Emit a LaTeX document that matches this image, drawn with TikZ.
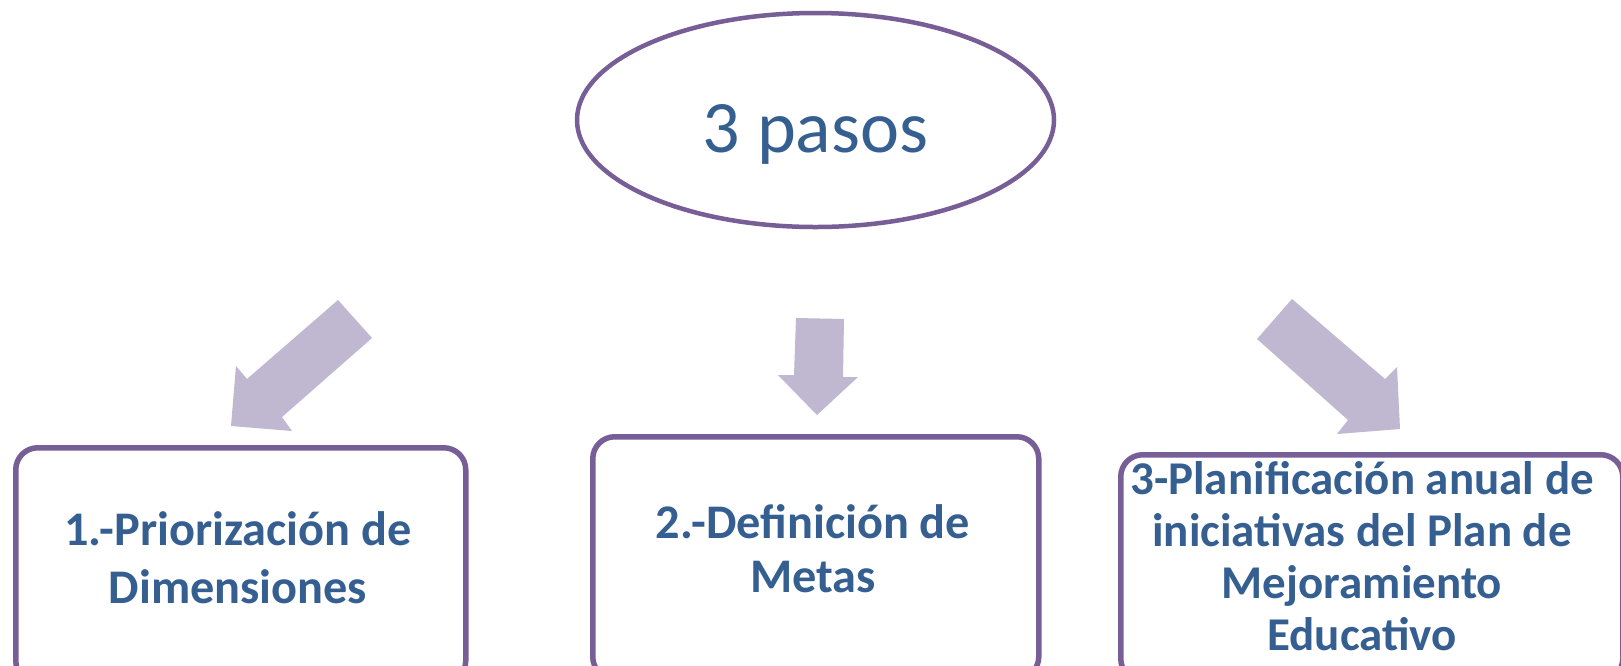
\documentclass[tikz,border=0pt]{standalone}
\usepackage{fontspec}
\setmainfont{Carlito}
\usetikzlibrary{shapes.geometric}
\definecolor{txtblue}{RGB}{54,95,145}
\definecolor{edgepurple}{RGB}{120,94,150}
\definecolor{arrowfill}{RGB}{191,184,208}
\begin{document}
\begin{tikzpicture}[x=1pt,y=-1pt,
  stepbox/.style={rectangle, draw=edgepurple, line width=5.5pt, rounded corners=22pt, fill=white, inner sep=0pt, anchor=north west},
  steptext/.style={text=txtblue, inner sep=0pt, anchor=base},
  blockarrow/.style={fill=arrowfill, draw=none},
  topoval/.style={ellipse, draw=edgepurple, line width=4.5pt, fill=white, inner sep=0pt}
]
\useasboundingbox (0,0) rectangle (1621,665);
\clip (0,0) rectangle (1621,665);
\fill[white] (0,0) rectangle (1621,665);

% central ellipse
\node[topoval, minimum width=477pt, minimum height=214pt] (top) at (815.5,120) {};
\node[steptext, font=\fontsize{74}{88}\selectfont] (toptext) at (815.5,152) {3 pasos};

% boxes
\node[stepbox, minimum width=450pt, minimum height=235pt] (b1) at (13,445) {};
\node[stepbox, minimum width=446pt, minimum height=242pt] (b2) at (590,434) {};
\node[stepbox, minimum width=502pt, minimum height=226pt] (b3) at (1118,452) {};

% texts
\node[steptext, font=\bfseries\fontsize{48.3}{58}\selectfont] (t1) at (238,545)
  {\begin{tabular}[t]{@{}c@{}}1.-Priorización de\\Dimensiones\end{tabular}};
\node[steptext, font=\bfseries\fontsize{48.3}{54}\selectfont] (t2) at (813,538)
  {\begin{tabular}[t]{@{}c@{}}2.-Definición de\\Metas\end{tabular}};
\node[steptext, font=\bfseries\fontsize{47}{52.3}\selectfont] (t3) at (1362,494)
  {\begin{tabular}[t]{@{}c@{}}3-Planificación anual de\\iniciativas del Plan de\\Mejoramiento\\Educativo\end{tabular}};

% block arrows
\fill[blockarrow] (338,300) -- (372,338) -- (282,417) -- (292,431) -- (231,426) -- (236,366) -- (247,379) -- cycle;
\fill[blockarrow] (796,318) -- (844,319) -- (843,377) -- (858,377) -- (817,415) -- (778,375) -- (794,375) -- cycle;
\fill[blockarrow] (1257,339) -- (1292,299) -- (1385,379) -- (1397,367) -- (1400,429) -- (1337,434) -- (1348,420) -- cycle;
\end{tikzpicture}
\end{document}
